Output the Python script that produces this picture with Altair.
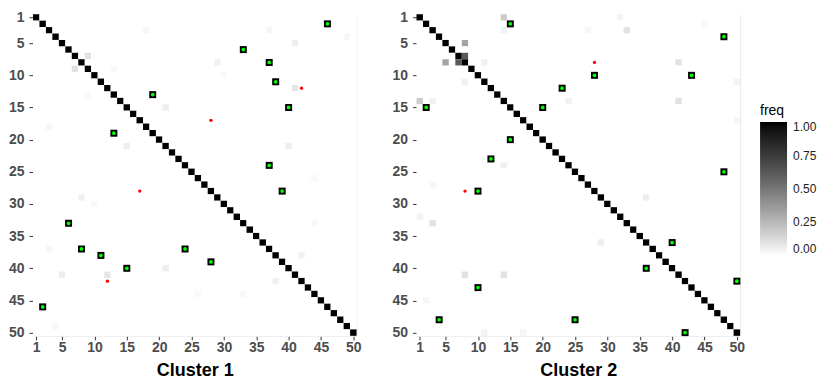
import altair as alt
import pandas as pd

N = 50
tick_values = [1, 5, 10, 15, 20, 25, 30, 35, 40, 45, 50]
clusters = ["Cluster 1", "Cluster 2"]

# true edges (upper triangle, mirrored)
c1_edges = [(2, 46), (6, 33), (8, 37), (11, 38), (13, 19), (15, 40), (24, 37), (28, 39)]
c2_edges = [(2, 15), (4, 48), (10, 28), (10, 43), (12, 23), (15, 20), (25, 48), (36, 40), (42, 50)]
# flagged pairs (red dots)
c1_red = [(12, 42), (17, 28)]
c2_red = [(8, 28)]
# notable off-diagonal frequencies (row, col, freq), mirrored
c1_cells = [(7, 9, 0.10), (5, 41, 0.06), (12, 41, 0.09), (8, 29, 0.05), (15, 21, 0.06),
            (21, 40, 0.06), (38, 42, 0.05), (4, 49, 0.03), (3, 37, 0.03), (3, 18, 0.03),
            (9, 13, 0.02), (18, 3, 0.03), (26, 44, 0.02), (33, 44, 0.02), (10, 30, 0.02)]
c2_cells = [(7, 8, 0.62), (5, 8, 0.33), (1, 14, 0.18), (3, 33, 0.10), (8, 41, 0.10),
            (14, 41, 0.10), (14, 24, 0.05), (29, 36, 0.06), (14, 3, 0.05), (8, 11, 0.05),
            (11, 50, 0.04), (17, 50, 0.03), (1, 32, 0.04), (3, 27, 0.03), (45, 2, 0.03)]

cells_by_cluster = {"Cluster 1": c1_cells, "Cluster 2": c2_cells}
edges_by_cluster = {"Cluster 1": c1_edges, "Cluster 2": c2_edges}
red_by_cluster = {"Cluster 1": c1_red, "Cluster 2": c2_red}

FONT = "Liberation Sans"


def build_panel(name, show_legend):
    vals = {}
    for r, c, f in cells_by_cluster[name]:
        vals[(r, c)] = f
        vals[(c, r)] = f
    rows = []
    for r in range(1, N + 1):
        for c in range(1, N + 1):
            f = 1.0 if r == c else vals.get((r, c), 0.0)
            rows.append({"row": r, "col": c, "freq": f})
    grid = pd.DataFrame(rows)

    e = []
    for r, c in edges_by_cluster[name]:
        e.append({"row": r, "col": c})
        e.append({"row": c, "col": r})
    edges = pd.DataFrame(e)
    d = []
    for r, c in red_by_cluster[name]:
        d.append({"row": r, "col": c})
        d.append({"row": c, "col": r})
    reds = pd.DataFrame(d)

    xscale = alt.Scale(domain=[0.5, 50.5], nice=False, zero=False)
    yscale = alt.Scale(domain=[0.5, 50.5], nice=False, zero=False, reverse=True)
    xaxis = alt.Axis(values=tick_values, title=name, grid=False, domain=True,
                     domainColor="#ebebeb", tickColor="#333333", tickSize=4,
                     labelPadding=1, titlePadding=7)
    yaxis = alt.Axis(values=tick_values, title=None, grid=False, domain=False,
                     tickColor="#333333", tickSize=4, labelPadding=5)

    legend = (alt.Legend(title="freq", orient="none", legendX=728, legendY=90,
                         gradientLength=134, gradientThickness=27,
                         values=[0, 0.25, 0.5, 0.75, 1], format=".2f",
                         labelFontSize=12, titleFontSize=14, labelOffset=6,
                         labelColor="#222222", titleColor="#000000",
                         titleFontWeight="normal", titlePadding=4,
                         labelFont=FONT, titleFont=FONT, gradientStrokeWidth=0)
              if show_legend else None)

    heat = alt.Chart(grid).transform_calculate(
        x1="datum.col - 0.5", x2="datum.col + 0.5",
        y1="datum.row - 0.5", y2="datum.row + 0.5"
    ).mark_rect(strokeWidth=0).encode(
        x=alt.X("x1:Q", scale=xscale, axis=xaxis),
        x2="x2:Q",
        y=alt.Y("y1:Q", scale=yscale, axis=yaxis),
        y2="y2:Q",
        color=alt.Color("freq:Q",
                        scale=alt.Scale(domain=[0, 1], range=["#ffffff", "#000000"],
                                        interpolate="lab"),
                        legend=legend),
    )

    sq = alt.Chart(edges).mark_square(size=49, color="#000000", opacity=1).encode(
        x=alt.X("col:Q", scale=xscale, axis=xaxis),
        y=alt.Y("row:Q", scale=yscale,
                axis=alt.Axis(orient="right", labels=False, ticks=False, title=None,
                              grid=False, domain=True, domainColor="#ebebeb")),
    )
    gr = alt.Chart(edges).mark_circle(size=14, color="#00ff00", opacity=1).encode(
        x=alt.X("col:Q", scale=xscale, axis=xaxis),
        y=alt.Y("row:Q", scale=yscale, axis=None),
    )
    rd = alt.Chart(reds).mark_circle(size=11, color="#ff0000", opacity=1).encode(
        x=alt.X("col:Q", scale=xscale, axis=xaxis),
        y=alt.Y("row:Q", scale=yscale, axis=None),
    )
    return alt.layer(heat, sq, gr, rd).resolve_axis(y="independent").properties(
        width=324, height=322)


chart = alt.hconcat(
    build_panel("Cluster 1", True),
    build_panel("Cluster 2", False),
    spacing=30,
).resolve_scale(color="shared").properties(
    padding={"left": 0, "top": 2, "right": 0, "bottom": 0}
).configure_view(stroke=None).configure_axis(
    labelFont=FONT, labelFontWeight="bold", labelFontSize=14, labelColor="#4d4d4d",
    titleFont=FONT, titleFontWeight="bold", titleFontSize=18, titleColor="#000000",
)

chart.save("out.html", embed_options={"renderer": "svg", "actions": False})
